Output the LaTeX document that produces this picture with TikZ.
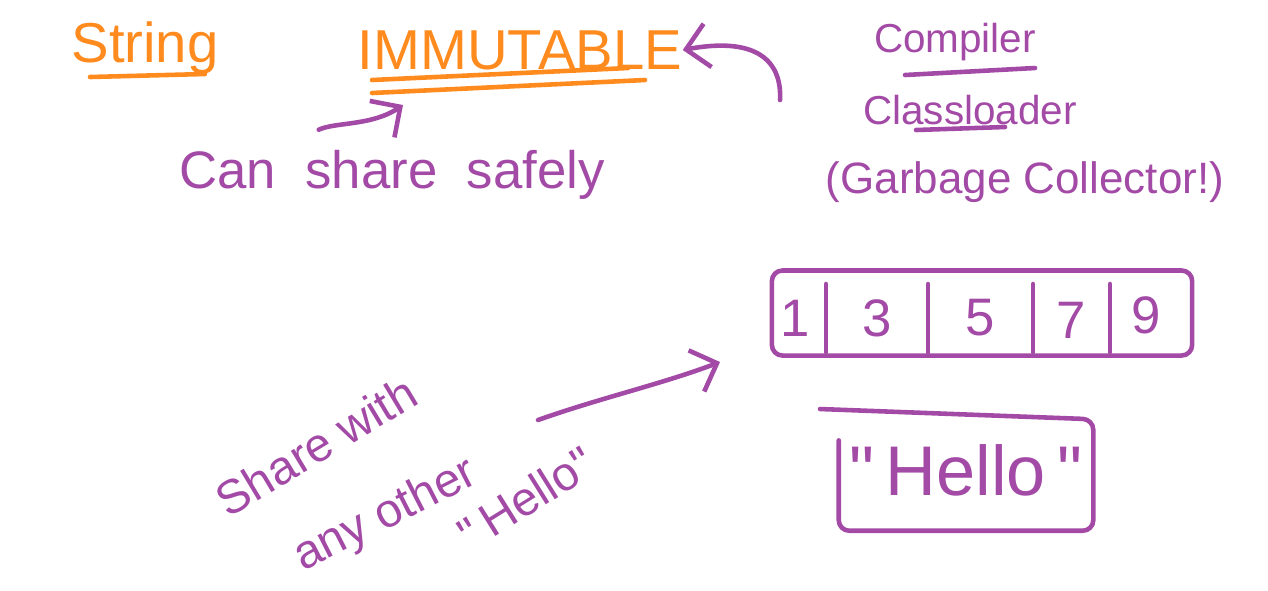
\documentclass[tikz,border=0pt]{standalone}
\usepackage{fontspec}
\setmainfont{Liberation Sans}
\usetikzlibrary{arrows.meta}
\definecolor{inkorange}{HTML}{FF8A1E}
\definecolor{inkpurple}{HTML}{A24AA6}
\tikzset{
  ink/.style={line width=1.3pt, line cap=round, line join=round},
  title/.style={text=inkorange, font=\fontsize{16}{19}\selectfont, inner sep=0pt},
  note/.style={text=inkpurple, font=\fontsize{15}{18}\selectfont, inner sep=0pt},
  small/.style={text=inkpurple, font=\fontsize{11.5}{14}\selectfont, inner sep=0pt},
  cell/.style={text=inkpurple, font=\fontsize{15}{18}\selectfont, inner sep=0pt},
  slant/.style={note, font=\fontsize{13.5}{16}\selectfont},
  box/.style={draw=inkpurple, ink, rounded corners=3pt, inner sep=0pt}
}

\begin{document}
\begin{tikzpicture}[x=0.01cm, y=-0.01cm, >={Straight Barb[length=2.2mm, width=4.4mm]}]
        \useasboundingbox (0,0) rectangle (1268,590);

        % --- Headings
        \node[title] (string) at (145,48) {String};
        \node[title] (immut) at (520,50) {IMMUTABLE};
        \draw[ink, inkorange] (90,77) -- (205,74);
        \draw[ink, inkorange] (372,80) -- (628,68);
        \draw[ink, inkorange] (372,93) -- (645,80);

        % --- Can share safely
        \node[note] (safe) at (392,175) {Can\ \ share\ \ safely};
        \coordinate (undr) at (403,105);
        \draw[ink, inkpurple, ->] (safe.north west) ++(140,-20) .. controls (335,122) and (372,126) .. (undr);

        % --- Compiler side
        \node[small] (comp) at (955,42) {Compiler};
        \draw[ink, inkpurple] (905,75) -- (1035,68);
        \node[small] (cload) at (970,110) {Classloader};
        \draw[ink, inkpurple] (916,130) -- (1005,127);
        \node[small, font=\fontsize{12.5}{15}\selectfont] (gc) at (1025,182) {(Garbage Collector!)};
        \coordinate (cfoot) at (780,100);
        \draw[ink, inkpurple, ->] (cfoot) .. controls (782,62) and (758,36) .. (immut.east);

        % --- Array of numbers
        \node[box, minimum width=4.2cm, minimum height=0.85cm] (arr) at (982,313) {};
        \foreach \x in {826,928,1033,1110}
          \draw[ink, inkpurple] (\x,284) -- (\x,352);
        \node[cell] (c1) at (795,318) {1};
        \node[cell] (c3) at (877,318) {3};
        \node[cell] (c5) at (980,318) {5};
        \node[cell] (c7) at (1071,320) {7};
        \node[cell] (c9) at (1146,315) {9};

        % --- "Hello" box
        \node[minimum width=2.53cm, minimum height=1.1cm] (hbox) at (966,475) {};
        \draw[ink, inkpurple, rounded corners=3pt] (820,409) -- (hbox.north east)
          -- (hbox.south east) -- (hbox.south west) -- ([yshift=-6]hbox.north west);
        \node[cell, font=\fontsize{20}{24}\selectfont] (hello) at (966,470) {\textquotedbl\,Hello\,\textquotedbl};

        % --- Share with any other "Hello"
        \node[slant, rotate=31] (sh1) at (316,446) {Share with};
        \node[slant, rotate=27] (sh2) at (386,516) {any other};
        \node[slant, rotate=32] (sh3) at (526,498) {\textquotedbl\,Hello\textquotedbl};
        \coordinate (shtail) at (538,420);
        \coordinate (shtip) at (720,362);
        \draw[ink, inkpurple, ->] (shtail) .. controls (600,398) and (662,384) .. (shtip);

\end{tikzpicture}
\end{document}
